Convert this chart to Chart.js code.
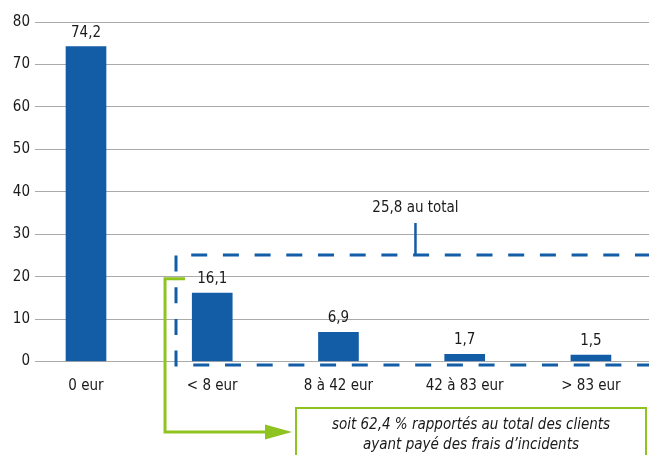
<!DOCTYPE html>
<html>
<head>
<meta charset="utf-8">
<script src="https://cdn.jsdelivr.net/npm/chart.js@4.4.1/dist/chart.umd.min.js"></script>
<style>
  html, body { margin: 0; padding: 0; background: #fff; overflow: hidden; }
  canvas { display: block; }
</style>
</head>
<body>
<canvas id="chart" width="649" height="455"></canvas>
<script>
// Data
const categories = ['0 eur', '< 8 eur', '8 à 42 eur', '42 à 83 eur', '> 83 eur'];
const values = [74.2, 16.1, 6.9, 1.7, 1.5];
const yTicks = [0, 10, 20, 30, 40, 50, 60, 70, 80];
const totalLabel = '25,8 au total';
const noteLines = ['soit 62,4 % rapportés au total des clients', 'ayant payé des frais d\u2019incidents'];

const FONT = '"Liberation Sans Narrow", "DejaVu Sans Condensed", "Arial Narrow", sans-serif';
const BLUE = '#135ca6';
const GREEN = '#8fc31f';
const TEXT = '#1a1a1a';

const fmt = v => String(v).replace('.', ',');

// Value labels above bars + annotation drawing
const overlayPlugin = {
    id: 'overlay',
    afterDatasetsDraw(chart) {
        const ctx = chart.ctx;
        const xs = chart.scales.x;
        const ys = chart.scales.y;
        const meta = chart.getDatasetMeta(0);

        ctx.save();
        ctx.fillStyle = TEXT;
        ctx.font = '15px ' + FONT;
        ctx.textAlign = 'center';
        ctx.textBaseline = 'middle';
        meta.data.forEach((bar, i) => {
            ctx.fillText(fmt(values[i]), bar.x, bar.y - 14);
        });

        // dashed box around the paying groups
        const boxLeft = xs.getPixelForValue(0.713);
        const boxTop = ys.getPixelForValue(25.1);
        const boxBottom = ys.getPixelForValue(0) + 3.5;
        ctx.strokeStyle = BLUE;
        ctx.lineWidth = 3;
        ctx.setLineDash([16, 15.7]);
        ctx.beginPath();
        ctx.moveTo(chart.width + 2, boxTop);
        ctx.lineTo(boxLeft, boxTop);
        ctx.lineTo(boxLeft, boxBottom);
        ctx.lineTo(chart.width + 2, boxBottom);
        ctx.stroke();
        ctx.setLineDash([]);

        // total marker
        const tx = xs.getPixelForValue(2.61);
        ctx.lineWidth = 2.5;
        ctx.beginPath();
        ctx.moveTo(tx, boxTop - 1);
        ctx.lineTo(tx, boxTop - 32);
        ctx.stroke();
        ctx.fillStyle = TEXT;
        ctx.fillText(totalLabel, tx, boxTop - 47);

        // green connector with arrow
        const gx = xs.getPixelForValue(0.626);
        const gTop = ys.getPixelForValue(19.5);
        const gEnd = xs.getPixelForValue(0.784);
        const arrowY = 432;
        const tipX = 292;
        ctx.strokeStyle = GREEN;
        ctx.fillStyle = GREEN;
        ctx.lineWidth = 3;
        ctx.beginPath();
        ctx.moveTo(gEnd, gTop);
        ctx.lineTo(gx, gTop);
        ctx.lineTo(gx, arrowY);
        ctx.lineTo(tipX - 20, arrowY);
        ctx.stroke();
        ctx.beginPath();
        ctx.moveTo(tipX, arrowY);
        ctx.lineTo(tipX - 27, arrowY - 7.5);
        ctx.lineTo(tipX - 27, arrowY + 7.5);
        ctx.closePath();
        ctx.fill();

        // note box
        ctx.lineWidth = 2;
        ctx.strokeRect(296, 408, 350, 60);
        ctx.fillStyle = TEXT;
        ctx.font = 'italic 15px ' + FONT;
        ctx.fillText(noteLines[0], 471, 425);
        ctx.fillText(noteLines[1], 471, 445);
        ctx.restore();
    }
};

new Chart(document.getElementById('chart'), {
    type: 'bar',
    data: {
        datasets: [{
            data: values.map((v, i) => ({ x: i, y: v })),
            backgroundColor: BLUE,
            borderWidth: 0,
            barThickness: 40
        }]
    },
    options: {
        responsive: false,
        animation: false,
        devicePixelRatio: 1,
        layout: { padding: { top: 22, left: 0, right: 0, bottom: 0 } },
        plugins: {
            legend: { display: false },
            tooltip: { enabled: false }
        },
        scales: {
            x: {
                type: 'linear',
                offset: false,
                min: -0.404,
                max: 4.46,
                grid: { display: false, offset: false },
                border: { display: false },
                afterBuildTicks(scale) {
                    scale.ticks = categories.map((c, i) => ({ value: i }));
                },
                afterFit(scale) { scale.height = 93.5; },
                ticks: {
                    autoSkip: false,
                    maxRotation: 0,
                    padding: 8,
                    color: TEXT,
                    font: { family: FONT, size: 15 },
                    callback: v => categories[v]
                }
            },
            y: {
                min: 0,
                max: 80,
                afterBuildTicks(scale) {
                    scale.ticks = yTicks.map(v => ({ value: v }));
                },
                afterFit(scale) { scale.width = 35; },
                grid: { color: '#aaaaaa', lineWidth: 1, drawTicks: false },
                border: { display: false },
                ticks: {
                    padding: 5,
                    color: TEXT,
                    font: { family: FONT, size: 15 }
                }
            }
        }
    },
    plugins: [overlayPlugin]
});
</script>
</body>
</html>
